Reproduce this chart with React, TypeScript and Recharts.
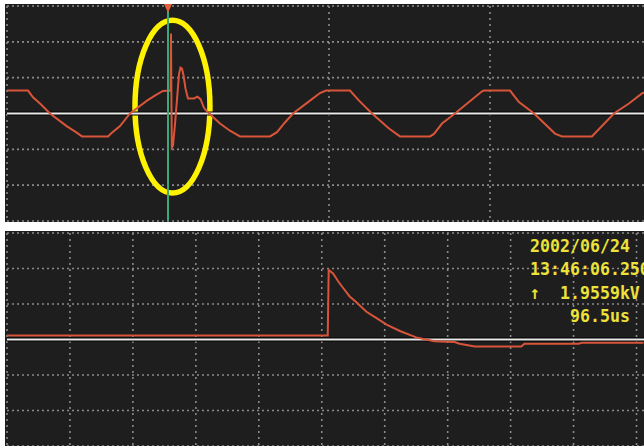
import React from "react";
import {
  CartesianGrid,
  Line,
  LineChart,
  ReferenceArea,
  ReferenceDot,
  ReferenceLine,
  XAxis,
  YAxis,
} from "recharts";

// Upper trace: line voltage, time in ms (20 ms/div), amplitude in divisions
const lineTimeMs = [
  0, 2.61, 3.23, 4.1, 5.34, 7.45, 8.57, 9.32, 12.55, 12.92, 14.04, 15.28, 17.39,
  18.51, 19.38, 20.31, 20.37, 20.47, 20.62, 20.87, 21.12, 21.37, 21.55, 21.74,
  21.93, 22.17, 22.48, 23.23, 23.66, 24.04, 24.47, 24.84, 25.59, 26.46, 27.7,
  28.94, 32.67, 33.54, 34.53, 35.53, 37.64, 38.88, 39.63, 42.61, 43.73, 45.34,
  47.45, 48.82, 52.55, 53.04, 54.04, 55.65, 57.39, 59.01, 59.25, 62.48, 63.6,
  65.47, 68.07, 68.94, 72.66, 73.04, 75.4, 77.26, 78.88, 80,
];
const lineLevel = [
  0.64, 0.64, 0.45, 0.28, 0, -0.36, -0.52, -0.64, -0.64, -0.56, -0.35, 0, 0.36,
  0.52, 0.63, 0.64, 2.23, -0.95, -0.9, -0.3, 0.4, 1.1, 1.28, 1.25, 1.06, 0.7,
  0.42, 0.42, 0.47, 0.4, 0.16, 0.06, -0.1, -0.28, -0.48, -0.64, -0.64, -0.52,
  -0.25, 0, 0.36, 0.57, 0.64, 0.64, 0.36, 0, -0.42, -0.64, -0.64, -0.57, -0.28,
  0, 0.32, 0.62, 0.64, 0.64, 0.32, 0, -0.56, -0.64, -0.64, -0.55, 0, 0.28, 0.56,
  0.66,
];
const lineTimeTicks = [0, 20, 40, 60, 80];
const TRIGGER_MS = 20;

// Lower trace: captured surge, time in us (20 us/div), kV (1 kV/div)
const PEAK_KV = 1.9559;
const surgeTimeUs = [
  0, 101.9, 102.2, 103.6, 105.2, 106.8, 108.8, 111.0, 114.2, 117.4, 120.6,
  124.8, 130.0, 132.0, 135.8, 142.2, 143.8, 148.6, 163.4, 164.4, 181.6, 182.6,
  202.2,
];
const surgeKv = [
  0.11, 0.11, PEAK_KV, 1.86, 1.64, 1.45, 1.22, 1.05, 0.78, 0.6, 0.42, 0.24,
  0.06, 0.02, -0.05, -0.07, -0.12, -0.2, -0.2, -0.12, -0.12, -0.09, -0.09,
];
const surgeTimeTicks = [0, 20, 40, 60, 80, 100, 120, 140, 160, 180, 200];

const levelTicks = [-3, -2, -1, 0, 1, 2, 3];

const readout = [
  "2002/06/24",
  "13:46:06.250",
  `↑  ${PEAK_KV.toFixed(4)}kV`,
  "    96.5us",
];

const lineData = lineTimeMs.map((t, i) => ({ t, v: lineLevel[i] }));
const surgeData = surgeTimeUs.map((t, i) => ({ t, v: surgeKv[i] }));

const SCREEN = "#1e1e1e";
const TRACE = "#d8553a";
const GRID = "#8a8a8a";

function Ellipse(props: any) {
  const { x, y, width, height } = props;
  return (
    <ellipse
      cx={x + width / 2}
      cy={y + height / 2}
      rx={width / 2}
      ry={height / 2}
      fill="none"
      stroke="#fff200"
      strokeWidth={5.5}
    />
  );
}

function TriggerMark(props: any) {
  const { cx, cy } = props;
  return (
    <path
      d={`M${cx - 4},${cy - 2} L${cx + 4},${cy - 2} L${cx},${cy + 7} Z`}
      fill="#e0603a"
    />
  );
}

function Grid() {
  return [
    <CartesianGrid
      key="h"
      vertical={false}
      stroke={GRID}
      strokeWidth={1.6}
      strokeDasharray="2 3"
    />,
    <CartesianGrid
      key="v"
      horizontal={false}
      stroke={GRID}
      strokeWidth={1.6}
      strokeDasharray="2 4"
    />,
  ];
}

function ZeroLine() {
  return [
    <ReferenceLine key="b" y={0} stroke="#000" strokeWidth={4} />,
    <ReferenceLine key="w" y={0} stroke="#e8e8e8" strokeWidth={2} />,
  ];
}

export default function App() {
  return (
    <div
      style={{
        position: "fixed",
        left: 0,
        top: 0,
        width: 644,
        height: 446,
        overflow: "hidden",
        background: "#fff",
      }}
    >
      <div
        style={{
          position: "absolute",
          left: 5,
          top: 4,
          width: 646,
          height: 218,
          background: SCREEN,
        }}
      >
        <LineChart
          width={646}
          height={218}
          data={lineData}
          margin={{ top: 2, right: 0, bottom: 1, left: 2 }}
        >
          {Grid()}
          <XAxis
            dataKey="t"
            type="number"
            domain={[0, 80]}
            ticks={lineTimeTicks}
            hide
          />
          <YAxis type="number" domain={[-3, 3]} ticks={levelTicks} hide />
          {ZeroLine()}
          <Line
            dataKey="v"
            type="linear"
            stroke={TRACE}
            strokeWidth={2}
            dot={false}
            isAnimationActive={false}
          />
          <ReferenceLine x={TRIGGER_MS} stroke="#3aa878" strokeWidth={2} />
          <ReferenceDot x={TRIGGER_MS} y={3} shape={TriggerMark} />
          <ReferenceArea
            x1={15.9}
            x2={25.21}
            y1={-2.22}
            y2={2.6}
            shape={Ellipse}
          />
        </LineChart>
      </div>

      <div
        style={{
          position: "absolute",
          left: 5,
          top: 231,
          width: 663,
          height: 216,
          background: SCREEN,
        }}
      >
        <LineChart
          width={663}
          height={216}
          data={surgeData}
          margin={{ top: 2, right: 0, bottom: 1, left: 2 }}
        >
          {Grid()}
          <XAxis
            dataKey="t"
            type="number"
            domain={[0, 210]}
            ticks={surgeTimeTicks}
            hide
          />
          <YAxis type="number" domain={[-3, 3]} ticks={levelTicks} hide />
          {ZeroLine()}
          <Line
            dataKey="v"
            type="linear"
            stroke={TRACE}
            strokeWidth={2}
            dot={false}
            isAnimationActive={false}
          />
        </LineChart>
      </div>

      <svg
        width={644}
        height={446}
        style={{ position: "absolute", left: 0, top: 0, pointerEvents: "none" }}
      >
        {readout.map((s, i) => (
          <text
            key={i}
            transform={`translate(530,${252 + i * 23.3}) scale(1,1.1)`}
            fill="#ece23a"
            fontFamily="'DejaVu Sans Mono', monospace"
            fontWeight="bold"
            fontSize={16.6}
            style={{ whiteSpace: "pre" }}
          >
            {s}
          </text>
        ))}
      </svg>
    </div>
  );
}
